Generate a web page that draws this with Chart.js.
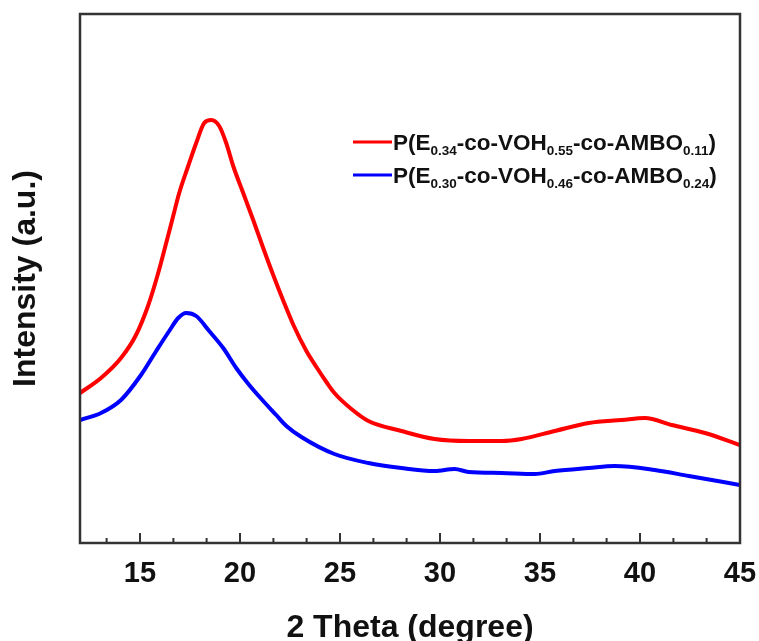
<!DOCTYPE html>
<html>
<head>
<meta charset="utf-8">
<script src="https://cdn.jsdelivr.net/npm/chart.js@4.4.1/dist/chart.umd.min.js"></script>
<style>
  body { margin: 0; background: #fff; }
  canvas { display: block; }
</style>
</head>
<body>
<canvas id="xrdChart" width="759" height="641"></canvas>
<script>
// values (intensity in arbitrary units)
const redTheta = [12.0, 13.05, 14.05, 14.8, 15.4, 15.91, 16.31, 16.66, 16.96, 17.41, 17.81, 18.21, 18.56, 18.96, 19.31, 19.66, 20.16, 20.66, 21.16, 21.66, 22.17, 22.67, 23.32, 23.82, 24.32, 24.72, 25.57, 26.42, 28.07, 29.73, 31.43, 33.08, 34.08, 35.74, 37.44, 39.09, 40.24, 41.59, 43.25, 45.0]
const redIntensity = [150, 165, 185, 208, 237, 270, 300, 327, 350, 377, 400, 420, 423, 417, 400, 377, 350, 323, 295, 268, 242, 218, 192, 176, 161, 150, 134, 122, 112, 104, 102, 102, 104, 112, 120, 123, 125, 118, 110, 98]

const blueTheta = [12.0, 13.05, 14.05, 15.05, 15.81, 16.46, 16.91, 17.31, 17.81, 18.46, 19.16, 19.81, 20.46, 21.16, 21.81, 22.32, 23.07, 24.72, 26.42, 28.07, 29.73, 30.73, 31.43, 33.08, 34.73, 35.74, 37.44, 38.74, 40.74, 42.44, 45.0]
const blueIntensity = [123, 130, 143, 168, 192, 212, 225, 230, 227, 212, 195, 175, 158, 142, 128, 117, 106, 89, 80, 75, 72, 74, 71, 70, 69, 72, 75, 77, 73, 67, 58]

const xMajorTicks = [15, 20, 25, 30, 35, 40, 45]
const xMinorTicks = [13.33, 16.67, 18.33, 21.67, 23.33, 26.67, 28.33, 31.67, 33.33, 36.67, 38.33, 41.67, 43.33]

// legend text, [text, isSubscript]
const redLabel = [['P(E', 0], ['0.34', 1], ['-co-VOH', 0], ['0.55', 1], ['-co-AMBO', 0], ['0.11', 1], [')', 0]]
const blueLabel = [['P(E', 0], ['0.30', 1], ['-co-VOH', 0], ['0.46', 1], ['-co-AMBO', 0], ['0.24', 1], [')', 0]]

const FONT = '"Liberation Sans", Arial, sans-serif'

function toPoints(xs, ys) {
  return xs.map((x, i) => ({x: x, y: ys[i]}))
}

// box round the plot + inward ticks on the bottom axis
const framePlugin = {
  id: 'frame',
  afterDraw(chart) {
    const {ctx, chartArea} = chart
    const xs = chart.scales.x
    ctx.save()
    ctx.strokeStyle = '#333'
    ctx.lineWidth = 2.5
    ctx.strokeRect(chartArea.left, chartArea.top, chartArea.right - chartArea.left, chartArea.bottom - chartArea.top)
    ctx.lineWidth = 2
    ctx.beginPath()
    xMajorTicks.forEach(v => {
      const px = xs.getPixelForValue(v)
      ctx.moveTo(px, chartArea.bottom)
      ctx.lineTo(px, chartArea.bottom - 10)
    })
    xMinorTicks.forEach(v => {
      const px = xs.getPixelForValue(v)
      ctx.moveTo(px, chartArea.bottom)
      ctx.lineTo(px, chartArea.bottom - 5)
    })
    ctx.stroke()
    ctx.restore()
  }
}

// legend inside the plot, with subscripts
const legendPlugin = {
  id: 'subLegend',
  afterDraw(chart) {
    const ctx = chart.ctx
    const rows = [
      {parts: redLabel, color: chart.data.datasets[0].borderColor, y: 142},
      {parts: blueLabel, color: chart.data.datasets[1].borderColor, y: 175}
    ]
    ctx.save()
    rows.forEach(row => {
      ctx.strokeStyle = row.color
      ctx.lineWidth = 3
      ctx.beginPath()
      ctx.moveTo(353, row.y)
      ctx.lineTo(392, row.y)
      ctx.stroke()
      let x = 393
      const base = row.y + 8
      ctx.fillStyle = '#111'
      ctx.textBaseline = 'alphabetic'
      row.parts.forEach(p => {
        ctx.font = p[1] ? 'bold 13.5px ' + FONT : 'bold 22.5px ' + FONT
        ctx.fillText(p[0], x, p[1] ? base + 5 : base)
        x += ctx.measureText(p[0]).width
      })
    })
    ctx.restore()
  }
}

const ctx = document.getElementById('xrdChart')

new Chart(ctx, {
  type: 'scatter',
  data: {
    datasets: [{
      label: 'P(E0.34-co-VOH0.55-co-AMBO0.11)',
      data: toPoints(redTheta, redIntensity),
      showLine: true,
      borderColor: '#ff0000',
      borderWidth: 4,
      pointRadius: 0,
      cubicInterpolationMode: 'monotone'
    }, {
      label: 'P(E0.30-co-VOH0.46-co-AMBO0.24)',
      data: toPoints(blueTheta, blueIntensity),
      showLine: true,
      borderColor: '#0000ff',
      borderWidth: 4,
      pointRadius: 0,
      cubicInterpolationMode: 'monotone'
    }]
  },
  options: {
    responsive: false,
    animation: false,
    layout: {padding: {top: 14, right: 19, left: 0, bottom: 0}},
    plugins: {
      legend: {display: false},
      tooltip: {enabled: false}
    },
    scales: {
      x: {
        type: 'linear',
        min: 12,
        max: 45,
        afterBuildTicks: s => { s.ticks = xMajorTicks.map(v => ({value: v})) },
        afterFit: s => { s.height = 98; s.paddingLeft = 0; s.paddingRight = 0 },
        grid: {display: false, drawTicks: false},
        border: {display: false},
        ticks: {
          color: '#111',
          padding: 14,
          maxRotation: 0,
          font: {family: FONT, size: 29, weight: 'bold'}
        },
        title: {
          display: true,
          text: '2 Theta (degree)',
          color: '#111',
          padding: {top: 0, bottom: -6},
          font: {family: FONT, size: 32, weight: 'bold'}
        }
      },
      y: {
        min: 0,
        max: 529,
        afterFit: s => { s.width = 80 },
        grid: {display: false, drawTicks: false},
        border: {display: false},
        ticks: {display: false},
        title: {
          display: true,
          text: 'Intensity (a.u.)',
          color: '#111',
          padding: {top: 7, bottom: 0},
          font: {family: FONT, size: 32, weight: 'bold'}
        }
      }
    }
  },
  plugins: [framePlugin, legendPlugin]
});
</script>
</body>
</html>
